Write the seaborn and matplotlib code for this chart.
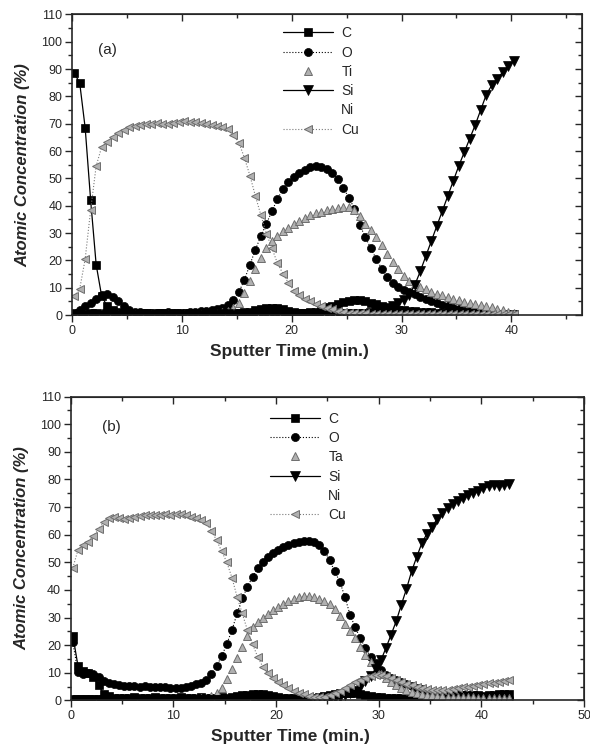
import matplotlib.pyplot as plt
import numpy as np
import pandas as pd
import seaborn as sns
from matplotlib.lines import Line2D
from matplotlib.ticker import MultipleLocator

# sputter time grid, one reading every 0.5 min starting at 0.2 min
t_a = np.round(0.2 + 0.5 * np.arange(81), 1)
t_b = np.round(0.2 + 0.5 * np.arange(86), 1)

# ---- panel (a) ----
C_a = [88.5, 85.0, 68.5, 42.0, 18.5, 7.0, 3.3, 2.0, 1.2, 0.8,
       0.6, 0.8, 0.5, 0.7, 0.6, 0.5, 0.7, 0.6, 0.5, 0.6,
       0.5, 0.7, 0.6, 0.5, 0.6, 0.7, 0.6, 0.5, 0.6, 0.7,
       0.8, 1.0, 1.3, 1.8, 2.2, 2.5, 2.6, 2.5, 2.2, 1.5,
       1.0, 0.8, 0.8, 1.0, 1.3, 2.0, 3.0, 3.5, 4.2, 4.8,
       5.2, 5.5, 5.4, 5.0, 4.5, 4.0, 3.2, 2.6, 2.2, 2.0,
       1.8, 1.6, 1.5, 1.3, 1.2, 1.0, 0.9, 0.8, 0.8, 0.7,
       0.6, 0.6, 0.5, 0.5, 0.5, 0.4, 0.4, 0.4, 0.3, 0.3,
       0.3]
O_a = [0.5, 2.0, 3.5, 4.5, 6.0, 7.5, 7.8, 6.8, 5.0, 3.2,
       2.0, 1.3, 1.0, 0.9, 0.8, 0.8, 0.9, 1.0, 0.9, 0.8,
       0.8, 1.0, 1.2, 1.4, 1.6, 1.9, 2.3, 2.8, 3.8, 5.5,
       8.5, 13.0, 18.5, 24.0, 29.0, 33.5, 38.0, 42.5, 46.0, 48.7,
       50.5, 52.0, 53.2, 54.0, 54.7, 54.3, 53.5, 52.0, 49.8, 46.5,
       43.0, 39.0, 33.0, 28.5, 24.5, 20.5, 17.0, 14.0, 11.8, 10.2,
       9.2, 8.4, 7.6, 6.8, 6.0, 5.2, 4.5, 3.8, 3.2, 2.6,
       2.1, 1.7, 1.4, 1.1, 0.9, 0.7, 0.6, 0.5, 0.4, 0.4,
       0.3]
Ti_a = [0.3, 0.4, 0.5, 0.6, 0.5, 0.4, 0.4, 0.3, 0.4, 0.3,
        0.4, 0.3, 0.4, 0.3, 0.4, 0.3, 0.4, 0.4, 0.3, 0.4,
        0.3, 0.4, 0.4, 0.5, 0.5, 0.6, 0.7, 1.0, 1.5, 2.5,
        4.5, 8.0, 12.5, 17.0, 21.0, 24.5, 27.0, 29.0, 30.7, 32.0,
        33.3, 34.5, 35.5, 36.5, 37.2, 37.8, 38.3, 38.7, 39.2, 39.7,
        39.5, 38.3, 36.3, 33.5, 31.0, 28.5, 25.5, 22.2, 19.3, 16.8,
        14.3, 12.5, 11.3, 10.2, 9.4, 8.6, 7.9, 7.2, 6.5, 5.9,
        5.4, 4.9, 4.5, 4.1, 3.7, 3.3, 2.9, 2.4, 1.9, 1.3,
        0.8]
Si_a = [0.3, 0.3, 0.2, 0.3, 0.3, 0.2, 0.3, 0.3, 0.2, 0.3,
        0.3, 0.2, 0.3, 0.3, 0.2, 0.3, 0.3, 0.2, 0.3, 0.3,
        0.2, 0.3, 0.3, 0.2, 0.3, 0.3, 0.2, 0.3, 0.3, 0.2,
        0.3, 0.3, 0.2, 0.3, 0.3, 0.2, 0.3, 0.3, 0.2, 0.3,
        0.3, 0.3, 0.3, 0.3, 0.3, 0.3, 0.4, 0.4, 0.4, 0.4,
        0.4, 0.5, 0.5, 0.6, 0.9, 1.3, 1.8, 2.5, 3.3, 4.3,
        5.5, 7.5, 11.0, 16.0, 21.5, 27.0, 32.5, 38.0, 43.5, 49.0,
        54.5, 59.5, 64.5, 69.5, 75.0, 80.5, 84.0, 86.5, 88.8, 91.0,
        93.0]
Cu_a = [7.0, 9.5, 20.5, 38.5, 54.5, 61.5, 63.5, 65.0, 66.5, 67.8,
        68.7, 69.3, 69.7, 69.8, 70.0, 70.2, 70.0, 69.9, 70.2, 70.5,
        71.0, 70.8, 70.5, 70.3, 70.0, 69.7, 69.3, 68.7, 68.0, 65.7,
        63.0, 57.5, 51.0, 43.5, 36.5, 29.8, 24.5, 19.0, 15.2, 11.8,
        9.0, 7.3, 6.0, 5.0, 4.2, 3.5, 2.8, 2.2, 1.7, 1.2,
        0.9, 0.8, 0.7, 0.7, 0.6, 0.6, 0.6, 0.5, 0.5, 0.5,
        0.5, 0.5, 0.5, 0.5, 0.5, 0.5, 0.5, 0.5, 0.5, 0.5,
        0.5, 0.5, 0.5, 0.5, 0.5, 0.5, 0.5, 0.5, 0.5, 0.5,
        0.5]

# ---- panel (b) ----
C_b = [23.5, 12.5, 10.5, 9.8, 8.5, 5.5, 2.5, 1.5, 1.0, 0.9,
       0.8, 1.0, 1.1, 0.9, 0.8, 1.0, 1.1, 0.9, 1.0, 0.8,
       0.9, 1.1, 1.0, 0.9, 1.0, 1.1, 1.0, 0.9, 1.0, 1.1,
       1.0, 1.2, 1.5, 1.8, 2.0, 2.2, 2.3, 2.2, 2.0, 1.5,
       1.2, 1.0, 0.9, 0.8, 0.8, 0.8, 0.9, 1.0, 1.2, 1.5,
       1.9, 2.3, 2.6, 2.8, 2.8, 2.6, 2.3, 2.0, 1.6, 1.3,
       1.1, 1.0, 0.9, 0.8, 0.8, 0.7, 0.7, 0.8, 0.9, 1.0,
       1.2, 1.4, 1.5, 1.6, 1.7, 1.8, 2.0, 2.1, 2.0, 1.8,
       1.7, 1.9, 2.1, 2.2, 2.3, 2.3]
O_b = [21.0, 10.2, 9.6, 9.8, 9.5, 8.5, 7.2, 6.3, 5.8, 5.5,
       5.3, 5.2, 5.1, 5.0, 5.1, 5.0, 4.9, 4.8, 4.8, 4.6,
       4.5, 4.6, 4.9, 5.4, 5.9, 6.5, 7.5, 9.5, 12.5, 16.0,
       20.5, 25.5, 31.5, 37.0, 41.0, 44.8, 47.8, 50.3, 52.0, 53.4,
       54.6, 55.6, 56.4, 57.0, 57.5, 57.7, 57.6, 57.2, 56.2, 54.2,
       50.8, 46.8, 43.0, 37.5, 31.0, 26.5, 22.5, 19.0, 15.8, 13.6,
       11.0, 9.2, 8.2, 7.5, 6.8, 6.0, 5.3, 4.6, 4.0, 3.5,
       3.1, 2.8, 2.5, 2.3, 2.1, 1.9, 1.8, 1.7, 1.6, 1.5,
       1.4, 1.3, 1.2, 1.1, 1.0, 1.0]
Ta_b = [0.5, 0.6, 0.5, 0.6, 0.5, 0.6, 0.5, 0.6, 0.5, 0.6,
        0.5, 0.6, 0.5, 0.6, 0.5, 0.6, 0.5, 0.6, 0.5, 0.6,
        0.6, 0.6, 0.7, 0.7, 0.8, 0.9, 1.0, 1.6, 2.6, 4.5,
        7.8, 11.5, 15.5, 19.5, 23.5, 26.5, 28.3, 29.8, 31.2, 32.6,
        33.8, 35.0, 36.0, 36.8, 37.4, 37.8, 37.8, 37.4, 36.8, 36.0,
        35.0, 33.0, 30.5, 27.8, 25.0, 22.5, 19.5, 16.5, 13.8, 11.5,
        9.6, 8.0, 6.6, 5.5, 4.6, 3.8, 3.2, 2.7, 2.3, 2.0,
        1.8, 1.6, 1.5, 1.4, 1.3, 1.2, 1.2, 1.1, 1.1, 1.0,
        1.0, 1.0, 0.9, 0.9, 0.9, 0.9]
Si_b = [0.3, 0.3, 0.2, 0.3, 0.3, 0.2, 0.3, 0.3, 0.2, 0.3,
        0.3, 0.2, 0.3, 0.3, 0.2, 0.3, 0.3, 0.2, 0.3, 0.3,
        0.2, 0.3, 0.3, 0.2, 0.3, 0.3, 0.2, 0.3, 0.3, 0.2,
        0.3, 0.3, 0.2, 0.3, 0.3, 0.2, 0.3, 0.3, 0.2, 0.3,
        0.3, 0.3, 0.3, 0.3, 0.3, 0.3, 0.3, 0.3, 0.3, 0.3,
        0.4, 0.8, 1.2, 1.8, 2.6, 3.6, 5.0, 7.0, 9.0, 11.3,
        14.5, 19.0, 23.8, 28.7, 34.7, 40.4, 46.8, 52.0, 57.0, 60.4,
        62.9, 65.8, 68.0, 69.6, 71.0, 72.2, 73.3, 74.3, 75.2, 76.0,
        76.8, 77.5, 78.0, 77.6, 78.0, 78.3]
Cu_b = [48.0, 54.5, 56.3, 57.5, 59.5, 62.0, 64.5, 66.0, 66.5, 66.0,
        65.8, 66.2, 66.5, 66.8, 67.0, 67.3, 67.0, 67.2, 67.4, 67.2,
        67.4, 67.6, 67.2, 66.5, 66.0, 65.3, 64.2, 61.5, 58.0, 54.0,
        50.0, 44.4, 37.5, 31.5, 25.5, 20.5, 15.8, 12.2, 9.8, 8.0,
        6.8, 5.7, 4.6, 3.6, 2.8, 2.2, 1.7, 1.4, 1.2, 1.3,
        1.8, 2.6, 3.5, 4.5, 5.6, 6.6, 7.5, 8.3, 8.9, 9.3,
        9.2, 8.8, 8.2, 7.5, 6.8, 6.1, 5.5, 4.9, 4.4, 4.0,
        3.8, 3.7, 3.7, 3.9, 4.1, 4.4, 4.7, 5.0, 5.3, 5.6,
        5.9, 6.2, 6.5, 6.8, 7.2, 7.5]

labels_a = ["C", "O", "Ti", "Si", "Ni", "Cu"]
labels_b = ["C", "O", "Ta", "Si", "Ni", "Cu"]

grey_face = "#b0b0b0"
grey_edge = "#6e6e6e"
styles = {
    "C": dict(marker="s", color="black", linestyle="-", linewidth=0.9, markersize=5.3,
              markeredgecolor="black", markeredgewidth=0.5),
    "O": dict(marker="o", color="black", linestyle=":", linewidth=0.8, markersize=5.8,
              markeredgecolor="black", markeredgewidth=0.5),
    "Ti": dict(marker="^", color=grey_edge, linestyle="none", markersize=6,
               markerfacecolor=grey_face, markeredgecolor=grey_edge, markeredgewidth=0.7),
    "Si": dict(marker="v", color="black", linestyle="-", linewidth=0.9, markersize=7,
               markeredgecolor="black", markeredgewidth=0.5),
    "Cu": dict(marker="<", color="#7a7a7a", linestyle=":", linewidth=0.8, markersize=6,
               markerfacecolor=grey_face, markeredgecolor=grey_edge, markeredgewidth=0.7),
}
styles["Ta"] = styles["Ti"]

sns.set_style("ticks")
plt.rcParams["font.family"] = ["Liberation Sans", "DejaVu Sans"]


def draw_panel(ax, t, series, labels, xmax, tag, tag_xy, leg_anchor, xlab_y):
    df = pd.DataFrame({"t": t, **series})
    handles = []
    for name in labels:
        if name not in series:
            handles.append(Line2D([], [], linestyle="none", label=name))
            continue
        sns.lineplot(data=df, x="t", y=name, ax=ax, label=name, **styles[name])
        handles.append(ax.get_lines()[-1])
    ax.set_xlim(0, xmax)
    ax.set_ylim(0, 110)
    ax.xaxis.set_major_locator(MultipleLocator(10))
    ax.xaxis.set_minor_locator(MultipleLocator(5))
    ax.yaxis.set_major_locator(MultipleLocator(10))
    ax.yaxis.set_minor_locator(MultipleLocator(5))
    ax.tick_params(which="major", direction="out", length=5, width=1, labelsize=9, pad=2)
    ax.tick_params(which="minor", direction="out", length=3, width=1)
    for s in ax.spines.values():
        s.set_visible(True)
        s.set_linewidth(1.2)

    top = ax.secondary_xaxis("top")
    top.xaxis.set_major_locator(MultipleLocator(10))
    top.xaxis.set_minor_locator(MultipleLocator(5))
    top.tick_params(which="major", direction="in", length=5, width=1, labeltop=False)
    top.tick_params(which="minor", direction="in", length=3, width=1)
    right = ax.secondary_yaxis("right")
    right.yaxis.set_major_locator(MultipleLocator(10))
    right.yaxis.set_minor_locator(MultipleLocator(5))
    right.tick_params(which="major", direction="in", length=5, width=1, labelright=False)
    right.tick_params(which="minor", direction="in", length=3, width=1)

    ax.set_xlabel("Sputter Time (min.)", fontsize=12.5, fontweight="bold")
    ax.xaxis.set_label_coords(0.427, xlab_y)
    ax.set_ylabel("Atomic Concentration (%)", fontsize=12, fontweight="bold",
                  fontstyle="italic", labelpad=8)
    ax.text(tag_xy[0], tag_xy[1], tag, fontsize=11)
    ax.legend(handles=handles, loc="upper left", bbox_to_anchor=leg_anchor,
              frameon=False, fontsize=10, handlelength=3.6, handletextpad=0.6,
              labelspacing=0.38, borderaxespad=0, borderpad=0, numpoints=1)


fig = plt.figure(figsize=(5.9, 7.54), dpi=100)
ax_a = fig.add_axes([0.122, 0.582, 0.864, 0.399])
ax_b = fig.add_axes([0.120, 0.071, 0.870, 0.403])

draw_panel(ax_a, t_a, {"C": C_a, "O": O_a, "Ti": Ti_a, "Si": Si_a, "Cu": Cu_a},
           labels_a, 46.4, "(a)", (2.4, 95.5), (0.414, 0.96), -0.095)
draw_panel(ax_b, t_b, {"C": C_b, "O": O_b, "Ta": Ta_b, "Si": Si_b, "Cu": Cu_b},
           labels_b, 50, "(b)", (3.0, 97.5), (0.388, 0.95), -0.095)

fig.savefig("out.png", dpi=100, facecolor="white")
